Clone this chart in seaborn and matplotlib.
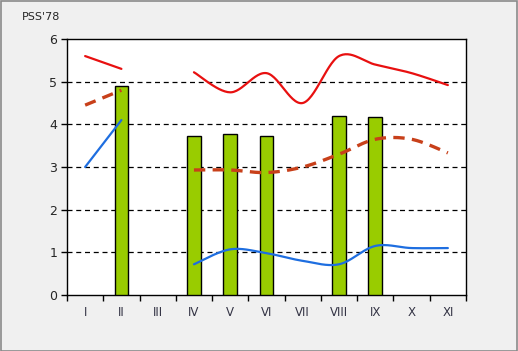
import numpy as np
import pandas as pd
import matplotlib
matplotlib.use("Agg")
import matplotlib.pyplot as plt
import seaborn as sns

months = ["I", "II", "III", "IV", "V", "VI", "VII", "VIII", "IX", "X", "XI"]
bars = [np.nan, 4.9, np.nan, 3.72, 3.77, 3.72, np.nan, 4.2, 4.17, np.nan, np.nan]
red_solid = [5.6, 5.3, np.nan, 5.22, 4.75, 5.2, 4.5, 5.6, 5.4, 5.2, 4.92]
red_dashed = [4.45, 4.8, np.nan, 2.93, 2.93, 2.87, 3.0, 3.3, 3.65, 3.65, 3.33]
blue = [3.0, 4.1, np.nan, 0.72, 1.07, 0.98, 0.8, 0.72, 1.15, 1.1, 1.1]


def smooth(xs, ys, n=30):
    # Excel-like smoothed line: bezier with catmull-rom control points, per run of non-NaN
    out_x, out_y = [], []
    runs, cur = [], []
    for x, y in zip(xs, ys):
        if np.isnan(y):
            if cur:
                runs.append(cur)
            cur = []
        else:
            cur.append((x, y))
    if cur:
        runs.append(cur)
    for run in runs:
        p = np.array(run, dtype=float)
        rx, ry = [p[0, 0]], [p[0, 1]]
        for i in range(len(p) - 1):
            p0 = p[i - 1] if i > 0 else p[i]
            p1, p2 = p[i], p[i + 1]
            p3 = p[i + 2] if i + 2 < len(p) else p[i + 1]
            c1 = p1 + (p2 - p0) / 6
            c2 = p2 - (p3 - p1) / 6
            t = np.linspace(0, 1, n)[1:, None]
            seg = ((1 - t) ** 3) * p1 + 3 * ((1 - t) ** 2) * t * c1 + 3 * (1 - t) * t ** 2 * c2 + t ** 3 * p2
            rx.extend(seg[:, 0])
            ry.extend(seg[:, 1])
        out_x.extend(rx + [np.nan])
        out_y.extend(ry + [np.nan])
    return out_x, out_y


sns.set_style("white")
plt.rcParams["font.family"] = ["DejaVu Sans"]

fig = plt.figure(figsize=(5.18, 3.51), dpi=100, facecolor="#F0F0F0")
ax = fig.add_axes([67 / 518, 56 / 351, 399 / 518, 256 / 351])
ax.set_facecolor("white")

df = pd.DataFrame({"month": months, "value": bars})
sns.barplot(data=df, x="month", y="value", order=months, color="#99CC00",
            saturation=1, width=0.38, edgecolor="black", linewidth=1, ax=ax, zorder=3)

pos = np.arange(len(months), dtype=float)
sx, sy = smooth(pos, red_solid)
ax.plot(sx, sy, color="#E81010", lw=1.6, zorder=4)
sx, sy = smooth(pos, red_dashed)
ax.plot(sx, sy, color="#C8401A", lw=2.4, ls=(0, (3.4, 2.2)), zorder=4, dash_capstyle="butt")
sx, sy = smooth(pos, blue)
ax.plot(sx, sy, color="#1E6EE0", lw=1.6, zorder=4)

ax.set_xlim(-0.5, len(months) - 0.5)
ax.set_ylim(0, 6)
ax.set_yticks(range(7))
for yv in range(1, 6):
    ax.axhline(yv, color="black", lw=0.9, ls=(0, (4, 3)), zorder=1)

ax.set_xticks(pos)
ax.set_xticklabels(months, fontsize=8.5, color="#333344")
ax.set_xticks(np.arange(-0.5, len(months), 1), minor=True)
ax.tick_params(axis="x", which="major", bottom=False, length=0, pad=8)
ax.tick_params(axis="x", which="minor", bottom=True, length=4, width=1, color="black", direction="out")
ax.tick_params(axis="y", left=True, length=4, width=1, color="black", direction="out", labelsize=9, pad=3)
ax.set_xlabel("")
ax.set_ylabel("")
for s in ax.spines.values():
    s.set_color("black")
    s.set_linewidth(1)

fig.text(22 / 518, 1 - 17 / 351, "PSS'78", fontsize=8, va="center", ha="left")
fig.patches.append(plt.Rectangle((0.001, 0.001), 0.997, 0.996, transform=fig.transFigure,
                                 fill=False, edgecolor="#8A8A8A", lw=1.2))

fig.savefig("out.png", dpi=100, facecolor=fig.get_facecolor())
